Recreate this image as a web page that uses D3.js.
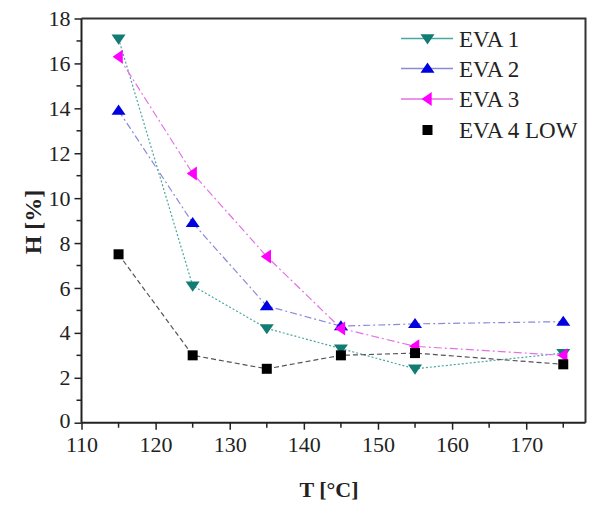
<!DOCTYPE html>
<html><head><meta charset="utf-8">
<script src="https://cdn.jsdelivr.net/npm/d3@7"></script>
<style>body{margin:0;background:#fff}svg{display:block}</style>
</head><body>
<script>
const temps = [115, 125, 135, 145, 155, 175];
const eva1 = [17.1, 6.1, 4.2, 3.3, 2.4, 3.1];
const eva2 = [13.9, 8.9, 5.2, 4.3, 4.4, 4.5];
const eva3 = [16.3, 11.1, 7.4, 4.2, 3.4, 3.0];
const eva4 = [7.5, 3.0, 2.4, 3.0, 3.1, 2.6];
const seriesNames = ["EVA 1", "EVA 2", "EVA 3", "EVA 4 LOW"];
const xTicks = [110, 120, 130, 140, 150, 160, 170];
const yTicks = [0, 2, 4, 6, 8, 10, 12, 14, 16, 18];

const W = 593, H = 506;
const m = {l: 81.5, r: 585.5, t: 18.5, b: 422.7};
const svg = d3.select("body").append("svg").attr("width", W).attr("height", H);
const x = d3.scaleLinear().domain([110, 178]).range([m.l, m.r]);
const y = d3.scaleLinear().domain([0, 18]).range([m.b, m.t]);

const font = "'Liberation Serif', 'Times New Roman', serif";

// frame top/right
svg.append("path").attr("d", `M${m.l},${m.t}H${m.r}V${m.b}`)
  .attr("fill", "none").attr("stroke", "#333").attr("stroke-width", 2);

// x axis
const xMinor = d3.range(115, 178, 10);
const gx = svg.append("g").attr("transform", `translate(0,${m.b})`);
gx.call(d3.axisBottom(x).tickValues(xTicks).tickSize(7).tickPadding(7).tickFormat(d3.format("d")));
xMinor.forEach(v => gx.append("line").attr("x1", x(v)).attr("x2", x(v)).attr("y1", 0).attr("y2", 5).attr("stroke", "#222").attr("stroke-width", 1.5));
gx.select(".domain").attr("d", `M${m.l},0H${m.r}`).attr("stroke", "#222").attr("stroke-width", 2);
gx.selectAll(".tick line").attr("stroke", "#222").attr("stroke-width", 1.5);
gx.selectAll("text").attr("font-family", font).attr("font-size", 22).attr("fill", "#222");

// y axis
const yMinor = d3.range(1, 18, 2);
const gy = svg.append("g").attr("transform", `translate(${m.l},0)`);
gy.call(d3.axisLeft(y).tickValues(yTicks).tickSize(7).tickPadding(4).tickFormat(d3.format("d")));
yMinor.forEach(v => gy.append("line").attr("y1", y(v)).attr("y2", y(v)).attr("x1", 0).attr("x2", -5).attr("stroke", "#222").attr("stroke-width", 1.5));
gy.select(".domain").attr("d", `M0,${m.t}V${m.b}`).attr("stroke", "#222").attr("stroke-width", 2);
gy.selectAll(".tick line").attr("stroke", "#222").attr("stroke-width", 1.5);
gy.selectAll("text").attr("font-family", font).attr("font-size", 22).attr("fill", "#222");
gy.selectAll(".tick text").filter(d => d === 0).attr("dy", "0.2em");

// axis titles
svg.append("text").attr("x", 329).attr("y", 497).attr("text-anchor", "middle")
  .attr("font-family", font).attr("font-weight", "bold").attr("font-size", 22).attr("fill", "#222").text("T [°C]");
svg.append("text").attr("transform", `translate(41,222) rotate(-90)`).attr("text-anchor", "middle")
  .attr("font-family", font).attr("font-weight", "bold").attr("font-size", 24).attr("fill", "#222").text("H [%]");

const series = [
  {name: seriesNames[0], vals: eva1, line: "#4aa6a0", marker: "#127c74", dash: "2,2", sym: "down", legendLine: true},
  {name: seriesNames[1], vals: eva2, line: "#8a8ad6", marker: "#0000e0", dash: "7,3,2,3", sym: "up", legendLine: true},
  {name: seriesNames[2], vals: eva3, line: "#e470e4", marker: "#ff00ff", dash: "8,3,2,3", sym: "left", legendLine: true},
  {name: seriesNames[3], vals: eva4, line: "#555", marker: "#000", dash: "5,3", sym: "square", legendLine: false}
];

function marker(g, sym, color, cx, cy) {
  const s = 7;
  let p;
  if (sym === "down") p = `M${cx - s},${cy - s * 0.6}L${cx + s},${cy - s * 0.6}L${cx},${cy + s * 0.85}Z`;
  else if (sym === "up") p = `M${cx - s},${cy + s * 0.6}L${cx + s},${cy + s * 0.6}L${cx},${cy - s * 0.85}Z`;
  else if (sym === "left") p = `M${cx + s * 0.6},${cy - s}L${cx + s * 0.6},${cy + s}L${cx - s * 0.85},${cy}Z`;
  else { const q = 5; p = `M${cx - q},${cy - q}h${2 * q}v${2 * q}h${-2 * q}Z`; }
  g.append("path").attr("d", p).attr("fill", color);
}

const line = d3.line().x((d, i) => x(temps[i])).y(d => y(d));
series.forEach(s => {
  svg.append("path").datum(s.vals).attr("d", line).attr("fill", "none")
    .attr("stroke", s.line).attr("stroke-width", 1.2).attr("stroke-dasharray", s.dash);
});
series.forEach(s => {
  const g = svg.append("g");
  s.vals.forEach((v, i) => marker(g, s.sym, s.marker, x(temps[i]), y(v)));
});

// legend
const ly = [38.5, 68.5, 99, 130];
series.forEach((s, i) => {
  const g = svg.append("g");
  if (s.legendLine) g.append("line").attr("x1", 401).attr("x2", 453).attr("y1", ly[i]).attr("y2", ly[i])
    .attr("stroke", s.line).attr("stroke-width", 1.3);
  marker(g, s.sym, s.marker, 427.5, ly[i]);
  g.append("text").attr("x", 459).attr("y", ly[i] + 8).attr("font-family", font).attr("font-size", 23)
    .attr("fill", "#222").text(s.name);
});
</script>
</body></html>
